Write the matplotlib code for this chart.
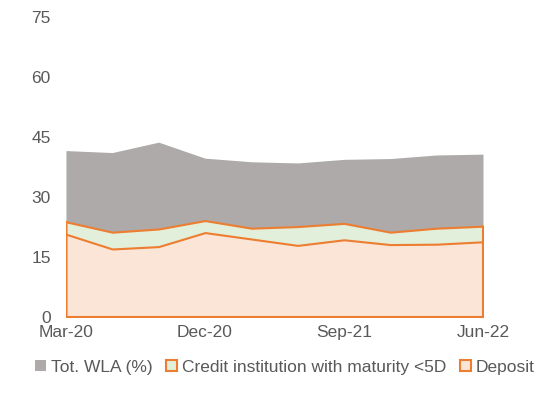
import matplotlib.pyplot as plt
from matplotlib.patches import Patch

plt.rcParams['font.family'] = ['Liberation Sans', 'DejaVu Sans']

# quarterly observations, Mar-20 .. Jun-22
quarters = ['Mar-20', 'Jun-20', 'Sep-20', 'Dec-20', 'Mar-21',
            'Jun-21', 'Sep-21', 'Dec-21', 'Mar-22', 'Jun-22']
tot_wla = [41.6, 41.1, 43.7, 39.7, 38.8, 38.5, 39.4, 39.6, 40.5, 40.7]
credit_lt5d = [23.8, 21.2, 22.0, 24.1, 22.2, 22.6, 23.4, 21.2, 22.2, 22.7]
deposit = [20.7, 17.0, 17.6, 21.1, 19.5, 17.9, 19.3, 18.1, 18.2, 18.8]

grey = '#adaaa9'
green = '#e2efda'
pink = '#fbe5d6'
orange = '#ed7d31'
txt = '#595959'

fig = plt.figure(figsize=(5.43, 4.03), dpi=100)
ax = fig.add_axes([0.1215, 0.2134, 0.768, 0.7446])

x = list(range(len(quarters)))
ax.fill_between(x, 0, tot_wla, color=grey, lw=0)
ax.fill_between(x, 0, credit_lt5d, facecolor=green, edgecolor=orange, lw=1.5)
ax.fill_between(x, 0, deposit, facecolor=pink, edgecolor=orange, lw=1.5)
# close the orange outline at the sides / bottom like excel does
ax.plot([0, 0, len(x) - 1, len(x) - 1], [credit_lt5d[0], 0, 0, credit_lt5d[-1]],
        color=orange, lw=1.5, solid_joinstyle='miter')

ax.set_xlim(0, len(x) - 1)
ax.set_ylim(0, 75)
ax.set_yticks([0, 15, 30, 45, 60, 75])
ax.set_xticks(x[::3])
ax.set_xticklabels(quarters[::3])
for s in ax.spines.values():
    s.set_visible(False)
ax.tick_params(axis='both', length=0, colors=txt, labelsize=12.5)
ax.tick_params(axis='y', pad=11)
ax.tick_params(axis='x', pad=6)

handles = [Patch(facecolor=grey, edgecolor='none'),
           Patch(facecolor=green, edgecolor=orange, lw=1.5),
           Patch(facecolor=pink, edgecolor=orange, lw=1.5)]
labels = ['Tot. WLA (%)', 'Credit institution with maturity <5D', 'Deposit']
fig.legend(handles, labels, loc='center', bbox_to_anchor=(0.525, 0.088), ncol=3,
           frameon=False, fontsize=12.5, handlelength=0.6, handleheight=0.6,
           handletextpad=0.3, columnspacing=0.8, labelcolor=txt)

fig.savefig('out.png', dpi=100)
